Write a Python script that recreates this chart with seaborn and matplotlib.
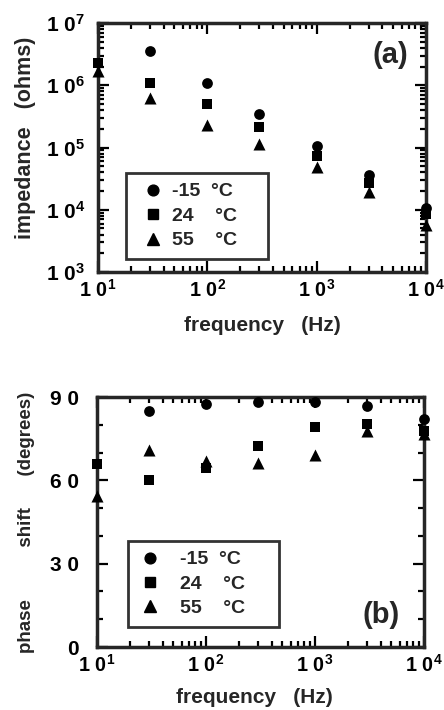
import numpy as np
import pandas as pd
import matplotlib
matplotlib.use("Agg")
import matplotlib.pyplot as plt
import seaborn as sns
from matplotlib.lines import Line2D
from matplotlib.ticker import FixedLocator, LogLocator, NullFormatter, FuncFormatter

# ---------------- data ----------------
temps = ["-15", "24", "55"]
legend_labels = ["-15  \u00b0C", "24    \u00b0C", "55    \u00b0C"]

freq_m15 = [30, 100, 300, 1000, 3000, 10000]
freq_all = [10, 30, 100, 300, 1000, 3000, 10000]

imp_m15 = [3.5e6, 1.08e6, 3.4e5, 1.07e5, 3.6e4, 1.05e4]
imp_24 = [2.3e6, 1.1e6, 5.0e5, 2.1e5, 7.3e4, 2.7e4, 8.7e3]
imp_55 = [1.7e6, 6.2e5, 2.3e5, 1.15e5, 4.9e4, 1.9e4, 5.6e3]

phase_m15 = [84.8, 87.6, 88.2, 88.2, 86.7, 82.0]
phase_24 = [66.0, 60.2, 64.6, 72.3, 79.2, 80.4, 77.8]
phase_55 = [54.5, 70.8, 67.0, 66.2, 69.2, 77.8, 76.8]

x_ticks = [10, 100, 1000, 10000]
imp_ticks = [1e3, 1e4, 1e5, 1e6, 1e7]
phase_ticks = [0, 30, 60, 90]
phase_tick_labels = ["0", "3 0", "6 0", "9 0"]

# ---------------- style ----------------
sns.set_style("ticks")
plt.rcParams["font.family"] = ["Liberation Sans", "DejaVu Sans"]
plt.rcParams["font.weight"] = "bold"
plt.rcParams["mathtext.fontset"] = "custom"
plt.rcParams["mathtext.rm"] = "Liberation Sans:bold"
plt.rcParams["mathtext.it"] = "Liberation Sans:bold"
plt.rcParams["mathtext.bf"] = "Liberation Sans:bold"
plt.rcParams["mathtext.default"] = "rm"

df_imp = pd.concat([
    pd.DataFrame({"freq": freq_m15, "val": imp_m15, "temp": temps[0]}),
    pd.DataFrame({"freq": freq_all, "val": imp_24, "temp": temps[1]}),
    pd.DataFrame({"freq": freq_all, "val": imp_55, "temp": temps[2]}),
])
df_ph = pd.concat([
    pd.DataFrame({"freq": freq_m15, "val": phase_m15, "temp": temps[0]}),
    pd.DataFrame({"freq": freq_all, "val": phase_24, "temp": temps[1]}),
    pd.DataFrame({"freq": freq_all, "val": phase_55, "temp": temps[2]}),
])

markers = {"-15": "o", "24": "s", "55": "^"}
sizes = {"-15": 60, "24": 48, "55": 75}

fig = plt.figure(figsize=(4.44, 7.10), dpi=100)
ax1 = fig.add_axes([0.2207, 0.6169, 0.7387, 0.3507])
ax2 = fig.add_axes([0.2185, 0.0887, 0.7365, 0.3521])

def pow_fmt(v, pos):
    n = int(round(np.log10(v)))
    return r"$1\ 0^{%d}$" % n

def draw(ax, df):
    for t in temps:
        sub = df[df["temp"] == t]
        sns.scatterplot(data=sub, x="freq", y="val", marker=markers[t],
                        s=sizes[t], color="black", edgecolor="black",
                        linewidth=0, ax=ax, legend=False, clip_on=False,
                        zorder=5)
    ax.set_xscale("log")
    ax.set_xlim(10, 10000)
    ax.xaxis.set_major_locator(FixedLocator(x_ticks))
    ax.xaxis.set_minor_locator(LogLocator(base=10, subs=np.arange(2, 10)))
    ax.xaxis.set_minor_formatter(NullFormatter())
    ax.xaxis.set_major_formatter(FuncFormatter(pow_fmt))
    for s in ax.spines.values():
        s.set_linewidth(2.5)
        s.set_visible(True)
    ax.tick_params(which="both", direction="in", top=True, right=True,
                   colors="black", labelsize=15, width=1.6)
    ax.tick_params(which="major", length=8)
    ax.tick_params(axis="y", which="major", pad=9)
    ax.tick_params(axis="x", which="major", pad=5, labelsize=14.2)
    ax.tick_params(which="minor", length=4)
    ax.set_xlabel("frequency   (Hz)", fontsize=15, fontweight="bold")
    handles = [Line2D([], [], marker=markers[t], color="black", linestyle="none",
                      markersize=np.sqrt(sizes[t])) for t in temps]
    return handles

h = draw(ax1, df_imp)
ax1.set_yscale("log")
ax1.set_ylim(1e3, 1e7)
ax1.yaxis.set_major_locator(FixedLocator(imp_ticks))
ax1.yaxis.set_minor_locator(LogLocator(base=10, subs=np.arange(2, 10)))
ax1.yaxis.set_minor_formatter(NullFormatter())
ax1.yaxis.set_major_formatter(FuncFormatter(pow_fmt))
ax1.set_ylabel("impedance   (ohms)", fontsize=15.5, fontweight="bold")
ax1.yaxis.set_label_coords(-0.19, 0.54)
ax1.xaxis.set_label_coords(0.5, -0.175)
ax1.text(0.89, 0.871, "(a)", transform=ax1.transAxes, fontsize=21,
         fontweight="bold", ha="center", va="center")
leg1 = ax1.legend(h, legend_labels, loc="lower left",
                  bbox_to_anchor=(0.085, 0.052, 0.433, 0.3), mode="expand",
                  borderaxespad=0, frameon=True, fancybox=False, fontsize=14,
                  handletextpad=0.05, labelspacing=0.35, borderpad=0.5,
                  handlelength=1.8)
leg1.get_frame().set_edgecolor("black")
leg1.get_frame().set_linewidth(2)
leg1.set_zorder(10)

h = draw(ax2, df_ph)
ax2.set_ylim(0, 90)
ax2.yaxis.set_major_locator(FixedLocator(phase_ticks))
ax2.yaxis.set_minor_locator(FixedLocator(np.arange(0, 91, 10)))
ax2.set_yticklabels(phase_tick_labels)
ax2.tick_params(axis="y", which="major", pad=13)
ax2.set_ylabel("phase          shift      (degrees)", fontsize=13.5, fontweight="bold")
ax2.yaxis.set_label_coords(-0.19, 0.50)
ax2.xaxis.set_label_coords(0.48, -0.164)
ax2.text(0.868, 0.128, "(b)", transform=ax2.transAxes, fontsize=21,
         fontweight="bold", ha="center", va="center")
leg2 = ax2.legend(h, legend_labels, loc="lower left",
                  bbox_to_anchor=(0.095, 0.08, 0.462, 0.3), mode="expand",
                  borderaxespad=0, frameon=True, fancybox=False, fontsize=14,
                  handletextpad=0.9, labelspacing=0.35, borderpad=0.5,
                  handlelength=1.25)
leg2.get_frame().set_edgecolor("black")
leg2.get_frame().set_linewidth(2)
leg2.set_zorder(10)

fig.savefig("out.png", dpi=100)
